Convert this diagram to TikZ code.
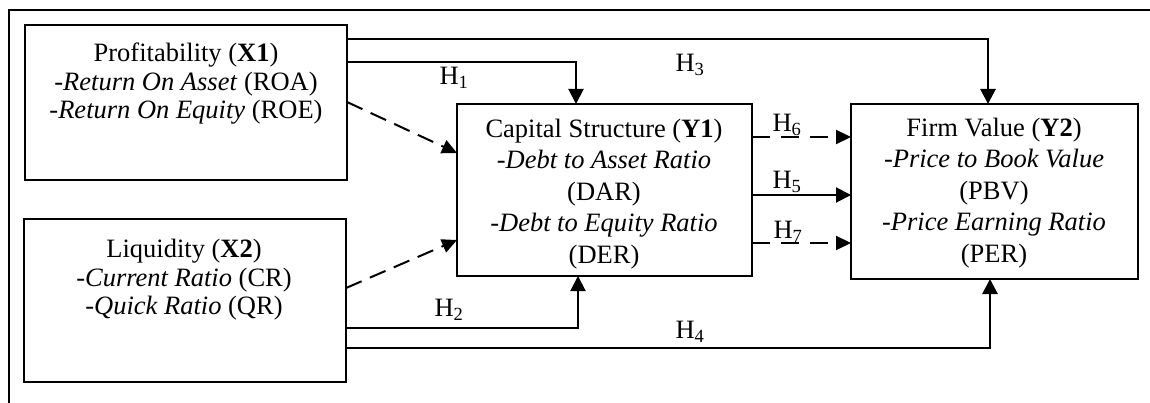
\documentclass[tikz,border=0pt]{standalone}
\usepackage{fontspec}
\setmainfont{Liberation Serif}
\usetikzlibrary{arrows.meta}
\tikzset{
  boxshape/.style={draw, line width=2pt, rectangle, inner sep=0pt, outer sep=0pt},
  txtX/.style={align=center, inner sep=0pt, font=\fontsize{26.5}{28.5}\selectfont},
  txtY/.style={align=center, inner sep=0pt, font=\fontsize{26.5}{31.5}\selectfont},
  hlab/.style={inner sep=0pt, font=\fontsize{26.5}{28}\selectfont},
  conn/.style={line width=2pt, -{Triangle[length=15pt,width=15pt]}},
  thickconn/.style={line width=2.8pt, -{Triangle[length=15pt,width=15pt]}},
  dconn/.style={line width=2pt, dash pattern=on 17pt off 9pt, -{Triangle[length=15pt,width=14pt]}},
  dconnb/.style={line width=2pt, dash pattern=on 18pt off 11pt, -{Triangle[length=15pt,width=14pt]}}
}
\begin{document}
\begin{tikzpicture}[x=1pt,y=-1pt]
\useasboundingbox (0,0) rectangle (1150,403);
% outer frame
\draw[line width=2pt] (1150,10) -- (9,10) -- (9,403);

% boxes
\node[boxshape, minimum width=322pt, minimum height=155pt] (x1) at (186,102.5) {};
\node[boxshape, minimum width=322pt, minimum height=163pt] (x2) at (185,300.5) {};
\node[boxshape, minimum width=295pt, minimum height=172pt] (y1) at (604.5,190) {};
\node[boxshape, minimum width=287pt, minimum height=175pt] (y2) at (994.5,191.5) {};

% box texts
\node[txtX] (x1t) at (186,84) {Profitability (\textbf{X1})\\-\textit{Return On Asset} (ROA)\\-\textit{Return On Equity} (ROE)};
\node[txtX] (x2t) at (184,280) {Liquidity (\textbf{X2})\\-\textit{Current Ratio} (CR)\\-\textit{Quick Ratio} (QR)};
\node[txtY] (y1t) at (604,194) {Capital Structure (\textbf{Y1})\\-\textit{Debt to Asset Ratio}\\(DAR)\\-\textit{Debt to Equity Ratio}\\(DER)};
\node[txtY] (y2t) at (994,193) {Firm Value (\textbf{Y2})\\-\textit{Price to Book Value}\\(PBV)\\-\textit{Price Earning Ratio}\\(PER)};

% helper coordinates
\coordinate (h3y) at (0,39);
\coordinate (h3x) at (988,0);
\coordinate (h1y) at (0,62);
\coordinate (h1x) at (576,0);
\coordinate (h2y) at (0,328);
\coordinate (h2x) at (578,0);
\coordinate (h4y) at (0,348);
\coordinate (h4x) at (990,0);
\coordinate (h6y) at (0,137);
\coordinate (h5y) at (0,195);
\coordinate (h7y) at (0,243);
\coordinate (d1s) at (0,102);
\coordinate (d1e) at (0,153);
\coordinate (d2s) at (0,288);
\coordinate (d2e) at (0,240);

% connectors
\draw[thickconn] (x1.east |- h3y) -| (y2.north -| h3x);
\draw[conn] (x1.east |- h1y) -| (y1.north -| h1x);
\draw[conn] (x2.east |- h2y) -| (y1.south -| h2x);
\draw[thickconn] (x2.east |- h4y) -| (y2.south -| h4x);
\draw[dconn] (x1.east |- d1s) -- (y1.west |- d1e);
\draw[dconn] (x2.east |- d2s) -- (y1.west |- d2e);
\draw[dconnb] (y1.east |- h6y) -- (y2.west |- h6y);
\draw[conn] (y1.east |- h5y) -- (y2.west |- h5y);
\draw[dconnb] (y1.east |- h7y) -- (y2.west |- h7y);

% labels
\node[hlab] (h1lab) at (454,78) {H\textsubscript{1}};
\node[hlab] (h3lab) at (690,65) {H\textsubscript{3}};
\node[hlab] (h2lab) at (449,310) {H\textsubscript{2}};
\node[hlab] (h4lab) at (690,332) {H\textsubscript{4}};
\node[hlab] (h6lab) at (787,125) {H\textsubscript{6}};
\node[hlab] (h5lab) at (787,182) {H\textsubscript{5}};
\node[hlab] (h7lab) at (788,232) {H\textsubscript{7}};
\end{tikzpicture}
\end{document}
